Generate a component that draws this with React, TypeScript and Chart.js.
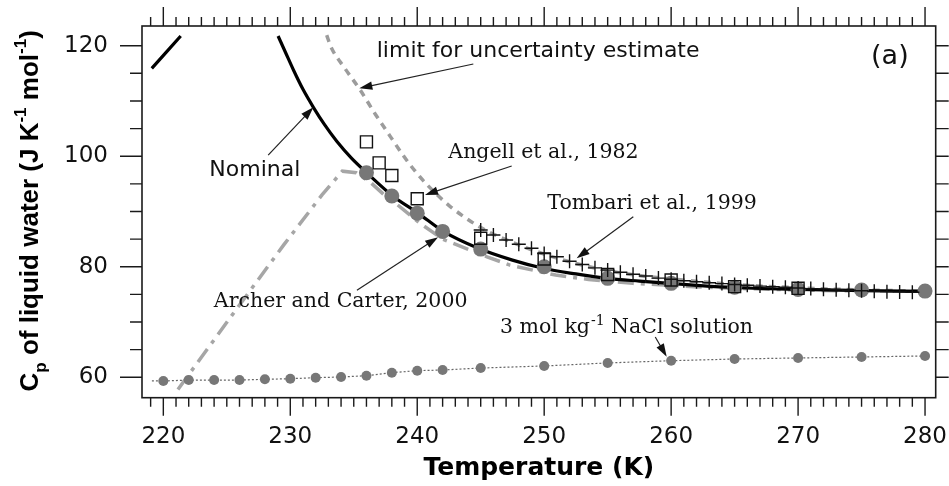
import React, { useEffect, useRef } from 'react';
import { Chart, registerables } from 'chart.js';

Chart.register(...registerables);

// ---------- axes ----------
const X_MIN = 218.32;
const X_MAX = 280.84;
const Y_MIN = 56.31;
const Y_MAX = 123.56;
const xTickValues = [220, 230, 240, 250, 260, 270, 280];
const yTickValues = [60, 80, 100, 120];

// ---------- data ----------
const nominalLowT = [219.09, 220.2, 221.37];
const nominalLowCp = [115.9, 118.75, 121.75];

const nominalT = [229.04, 229.6, 230.25, 231.0, 231.82, 232.7, 233.66, 234.8, 236.02, 238.07, 240.09, 242.06, 244.81, 247.5, 249.93, 252.5, 254.93, 257.5, 259.9, 262.3, 265, 270, 275, 280];
const nominalCp = [121.75, 118.9, 115.6, 112.1, 108.85, 105.7, 102.7, 99.7, 97.0, 92.8, 89.67, 86.4, 83.34, 81.2, 79.72, 78.7, 77.9, 77.4, 77.0, 76.6, 76.25, 75.9, 75.7, 75.55];

const limitT = [232.87, 233.2, 234.3, 235.5, 236.7, 237.9, 239.0, 240.2, 241.4, 242.6, 245.0, 247.5, 250.0, 252.5, 255.0, 257.5, 260.0, 265.0, 270.0, 275.0, 280.0];
const limitCp = [121.9, 119.8, 115.9, 112.0, 107.6, 103.5, 99.8, 96.3, 93.4, 90.9, 87.1, 84.4, 82.3, 80.6, 79.3, 78.4, 77.8, 76.8, 76.2, 75.8, 75.6];

const archerT = [221.15, 225.4, 229.5, 232.5, 234.1, 235.2, 236.4, 237.4, 238.4, 240.2, 242.0, 245.5, 247.3, 250.9, 253.5, 257.0, 261.8, 265.0, 270.0, 275.0];
const archerCp = [57.8, 71.2, 84.0, 93.0, 97.3, 97.0, 95.1, 93.0, 91.3, 87.9, 85.0, 81.8, 80.3, 78.5, 77.7, 77.0, 76.4, 76.1, 75.8, 75.6];

const circleT = [236, 238, 240, 242, 245, 250, 255, 260, 265, 270, 275, 280];
const circleCp = [97.0, 92.8, 89.7, 86.4, 83.2, 80.0, 77.9, 77.0, 76.3, 75.9, 75.8, 75.6];

const angellT = [236, 237, 238, 240, 245, 250, 255, 260, 265, 270];
const angellCp = [102.6, 98.8, 96.5, 92.3, 85.15, 81.4, 78.6, 77.6, 76.4, 76.1];

const tombariT = [245, 246, 247, 248, 249, 250, 251, 252, 253, 254, 255, 256, 257, 258, 259, 260, 261, 262, 263, 264, 265, 266, 267, 268, 269, 270, 271, 272, 273, 274, 275, 276, 277, 278, 279];
const tombariCp = [86.65, 85.75, 84.85, 84.07, 83.34, 82.4, 81.8, 81.0, 80.4, 79.8, 79.4, 79.0, 78.64, 78.33, 77.95, 77.75, 77.48, 77.3, 77.12, 76.95, 76.8, 76.65, 76.5, 76.4, 76.3, 76.15, 76.05, 75.95, 75.85, 75.75, 75.65, 75.55, 75.5, 75.45, 75.4];

const naclT = [220, 222, 224, 226, 228, 230, 232, 234, 236, 238, 240, 242, 245, 250, 255, 260, 265, 270, 275, 280];
const naclCp = [59.33, 59.5, 59.5, 59.5, 59.64, 59.75, 59.93, 60.06, 60.29, 60.84, 61.2, 61.32, 61.68, 62.05, 62.6, 63.0, 63.31, 63.5, 63.68, 63.86];
const naclLineStartT = [219.1];
const naclLineStartCp = [59.35];

// ---------- annotation text ----------
const labelLimit = 'limit for uncertainty estimate';
const labelNominal = 'Nominal';
const labelAngell = 'Angell et al., 1982';
const labelTombari = 'Tombari et al., 1999';
const labelArcher = 'Archer and Carter, 2000';
const labelNaclA = '3 mol kg';
const labelNaclSup = '-1';
const labelNaclB = ' NaCl solution';
const labelPanel = '(a)';
const xTitle = 'Temperature (K)';

const pts = (xs: number[], ys: number[]) => xs.map((x, i) => ({ x, y: ys[i] }));

const SANS = '"DejaVu Sans", sans-serif';
const SERIF = '"DejaVu Serif", serif';

const overlayPlugin = {
  id: 'overlay',
  afterDraw(chart: any) {
    const { ctx, chartArea: a, scales } = chart;
    const xs = scales.x;
    const ys = scales.y;
    const px = (v: number) => xs.getPixelForValue(v);
    const py = (v: number) => ys.getPixelForValue(v);
    ctx.save();

    // frame
    ctx.strokeStyle = '#1a1a1a';
    ctx.lineWidth = 1.6;
    ctx.strokeRect(a.left, a.top, a.right - a.left, a.bottom - a.top);

    // ticks
    ctx.lineWidth = 1.4;
    ctx.beginPath();
    for (let v = Math.ceil(X_MIN); v <= X_MAX; v++) {
      const x = px(v);
      const major = v % 10 === 0;
      ctx.moveTo(x, a.bottom);
      ctx.lineTo(x, a.bottom + (major ? 18 : 9));
      ctx.moveTo(x, a.top);
      ctx.lineTo(x, a.top - (major ? 19 : 9));
    }
    for (let v = Math.ceil(Y_MIN / 5) * 5; v <= Y_MAX; v += 5) {
      const y = py(v);
      const major = v % 20 === 0;
      ctx.moveTo(a.left, y);
      ctx.lineTo(a.left - (major ? 22 : 12), y);
      ctx.moveTo(a.right, y);
      ctx.lineTo(a.right + 13, y);
    }
    ctx.stroke();

    // arrows
    const arrow = (t1: number, c1: number, t2: number, c2: number) => {
      const x1 = px(t1), y1 = py(c1), x2 = px(t2), y2 = py(c2);
      const ang = Math.atan2(y2 - y1, x2 - x1);
      const L = 13, W = 4.2;
      ctx.strokeStyle = '#222';
      ctx.lineWidth = 1.2;
      ctx.beginPath();
      ctx.moveTo(x1, y1);
      ctx.lineTo(x2 - Math.cos(ang) * L * 0.8, y2 - Math.sin(ang) * L * 0.8);
      ctx.stroke();
      ctx.fillStyle = '#111';
      ctx.beginPath();
      ctx.moveTo(x2, y2);
      ctx.lineTo(x2 - Math.cos(ang) * L - Math.sin(ang) * W, y2 - Math.sin(ang) * L + Math.cos(ang) * W);
      ctx.lineTo(x2 - Math.cos(ang) * L + Math.sin(ang) * W, y2 - Math.sin(ang) * L - Math.cos(ang) * W);
      ctx.closePath();
      ctx.fill();
    };
    arrow(244.42, 116.69, 235.44, 112.29);
    arrow(228.26, 100.2, 231.82, 108.85);
    arrow(247.44, 98.23, 240.61, 92.99);
    arrow(257.02, 89.06, 252.56, 81.53);
    arrow(235.25, 75.75, 241.64, 85.34);
    arrow(258.75, 67.3, 259.65, 63.73);

    // texts
    ctx.fillStyle = '#111';
    ctx.textBaseline = 'alphabetic';
    ctx.textAlign = 'left';
    const text = (s: string, t: number, c: number, font: string) => {
      ctx.font = font;
      ctx.fillText(s, px(t), py(c));
    };
    text(labelLimit, 236.81, 117.96, `22px ${SANS}`);
    text(labelNominal, 223.62, 96.4, `22px ${SANS}`);
    text(labelPanel, 275.75, 116.7, `27px ${SANS}`);
    text(labelAngell, 242.45, 99.63, `20.5px ${SERIF}`);
    text(labelTombari, 250.25, 90.5, `20.5px ${SERIF}`);
    text(labelArcher, 223.98, 72.78, `20.5px ${SERIF}`);
    // NaCl label with superscript
    {
      let x = px(246.52);
      const y = py(67.96);
      ctx.font = `20.5px ${SERIF}`;
      ctx.fillText(labelNaclA, x, y);
      x += ctx.measureText(labelNaclA).width + 1;
      ctx.font = `14px ${SERIF}`;
      ctx.fillText(labelNaclSup, x, y - 8);
      x += ctx.measureText(labelNaclSup).width;
      ctx.font = `20.5px ${SERIF}`;
      ctx.fillText(labelNaclB, x, y);
    }

    // y-axis title with subscript / superscripts
    {
      const big = `bold 26px "Liberation Sans", Arial, sans-serif`;
      const small = `bold 17px "Liberation Sans", Arial, sans-serif`;
      const parts = [
        { s: 'C', f: big, dy: 0 },
        { s: 'p', f: small, dy: 8 },
        { s: ' of liquid water (J K', f: big, dy: 0 },
        { s: '-1', f: small, dy: -12 },
        { s: ' mol', f: big, dy: 0 },
        { s: '-1', f: small, dy: -12 },
        { s: ')', f: big, dy: 0 },
      ];
      let total = 0;
      const widths = parts.map((p) => {
        ctx.font = p.f;
        const w = ctx.measureText(p.s).width;
        total += w;
        return w;
      });
      ctx.save();
      ctx.translate(38, (a.top + a.bottom) / 2 - 1);
      ctx.rotate(-Math.PI / 2);
      let x = -total / 2;
      parts.forEach((p, i) => {
        ctx.font = p.f;
        ctx.fillStyle = '#000';
        ctx.fillText(p.s, x, p.dy);
        x += widths[i];
      });
      ctx.restore();
    }

    ctx.restore();
  },
};

export default function App() {
  const ref = useRef<HTMLCanvasElement | null>(null);

  useEffect(() => {
    if (!ref.current) return;
    const lineBase = { showLine: true, pointRadius: 0, pointHoverRadius: 0, fill: false };
    const chart = new Chart(ref.current, {
      type: 'scatter',
      data: {
        datasets: [
          {
            label: 'Tombari et al., 1999',
            data: pts(tombariT, tombariCp),
            pointStyle: 'cross',
            pointRadius: 7,
            pointBorderWidth: 1.4,
            borderColor: '#111',
            backgroundColor: '#111',
            order: 1,
          },
          {
            label: 'Angell et al., 1982',
            data: pts(angellT, angellCp),
            pointStyle: 'rect',
            pointRadius: 8.5,
            pointBorderWidth: 1.4,
            borderColor: '#111',
            backgroundColor: 'rgba(0,0,0,0)',
            order: 2,
          },
          {
            label: 'circles',
            data: pts(circleT, circleCp),
            pointStyle: 'circle',
            pointRadius: 7.5,
            pointBorderWidth: 0,
            borderColor: '#777',
            backgroundColor: '#777',
            order: 3,
          },
          {
            label: 'Nominal',
            data: pts(nominalT, nominalCp),
            ...lineBase,
            borderColor: '#000',
            borderWidth: 3.2,
            cubicInterpolationMode: 'monotone',
            order: 4,
          },
          {
            label: 'Nominal (low branch)',
            data: pts(nominalLowT, nominalLowCp),
            ...lineBase,
            borderColor: '#000',
            borderWidth: 3.2,
            order: 4,
          },
          {
            label: 'limit for uncertainty estimate',
            data: pts(limitT, limitCp),
            ...lineBase,
            borderColor: '#9c9c9c',
            borderWidth: 3.5,
            borderDash: [7, 6],
            cubicInterpolationMode: 'monotone',
            order: 5,
          },
          {
            label: 'Archer and Carter, 2000',
            data: pts(archerT, archerCp),
            ...lineBase,
            borderColor: '#a6a6a6',
            borderWidth: 3.5,
            borderDash: [16, 7, 4, 7],
            order: 6,
          },
          {
            label: '3 mol/kg NaCl',
            data: pts(naclT, naclCp),
            pointStyle: 'circle',
            pointRadius: 5,
            pointBorderWidth: 0,
            borderColor: '#777',
            backgroundColor: '#777',
            order: 1,
          },
          {
            label: '3 mol/kg NaCl line',
            data: pts(naclLineStartT.concat(naclT), naclLineStartCp.concat(naclCp)),
            ...lineBase,
            borderColor: '#666',
            borderWidth: 1.2,
            borderDash: [2, 2],
            order: 2,
          },
        ],
      },
      options: {
        animation: false,
        responsive: false,
        events: [],
        layout: { padding: { top: 26, right: 13.3, left: 0, bottom: 0 } },
        plugins: {
          legend: { display: false },
          tooltip: { enabled: false },
          title: { display: false },
        },
        scales: {
          x: {
            type: 'linear',
            min: X_MIN,
            max: X_MAX,
            afterBuildTicks: (scale: any) => {
              scale.ticks = xTickValues.map((v) => ({ value: v }));
            },
            afterFit: (scale: any) => {
              scale.height = 88.3;
              scale.paddingLeft = 0;
              scale.paddingRight = 0;
            },
            grid: {
              display: true,
              drawOnChartArea: false,
              drawTicks: true,
              tickLength: 18,
              color: 'rgba(0,0,0,0)',
            },
            border: { display: false },
            ticks: {
              autoSkip: false,
              maxRotation: 0,
              padding: 8,
              color: '#111',
              font: { family: SANS, size: 23 },
              callback: (v: any) => String(v),
            },
            title: {
              display: true,
              text: xTitle,
              color: '#000',
              font: { family: SANS, size: 25, weight: 'bold' },
              padding: { top: 0, bottom: 3 },
            },
          },
          y: {
            type: 'linear',
            min: Y_MIN,
            max: Y_MAX,
            afterBuildTicks: (scale: any) => {
              scale.ticks = yTickValues.map((v) => ({ value: v }));
            },
            afterFit: (scale: any) => {
              scale.width = 142;
              scale.paddingTop = 0;
              scale.paddingBottom = 0;
            },
            grid: {
              display: true,
              drawOnChartArea: false,
              drawTicks: true,
              tickLength: 22,
              color: 'rgba(0,0,0,0)',
            },
            border: { display: false },
            ticks: {
              autoSkip: false,
              padding: 12,
              color: '#111',
              font: { family: SANS, size: 23 },
              callback: (v: any) => String(v),
            },
            title: { display: false },
          },
        },
      },
      plugins: [overlayPlugin],
    } as any);
    return () => chart.destroy();
  }, []);

  return (
    <div style={{ position: 'absolute', left: 0, top: 0, width: 949, height: 486, background: '#fff' }}>
      <canvas ref={ref} width={949} height={486} style={{ display: 'block' }} />
    </div>
  );
}
